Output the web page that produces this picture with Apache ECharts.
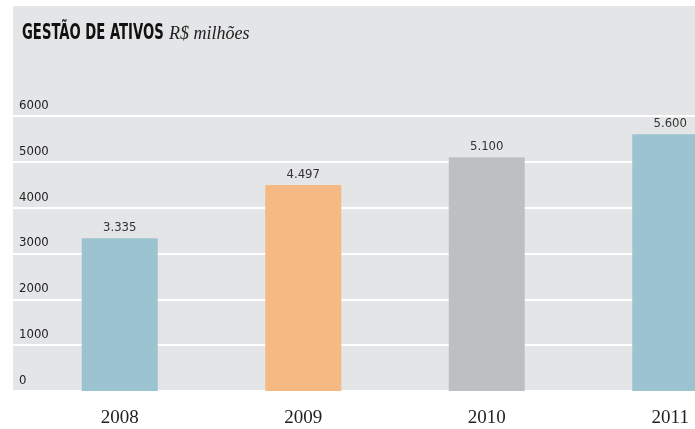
<!DOCTYPE html>
<html>
<head>
<meta charset="utf-8">
<script src="https://cdn.jsdelivr.net/npm/echarts@6/dist/echarts.min.js"></script>
<style>
  html, body { margin: 0; padding: 0; background: #fff; }
  #chart { width: 695px; height: 429px; }
</style>
</head>
<body>
<div id="chart"></div>
<script>
const years = ['2008', '2009', '2010', '2011'];
const values = [3335, 4497, 5100, 5600];
const barColors = ['#9bc4d0', '#f7b983', '#bdc0c3', '#9bc4d0'];
const yTicks = [0, 1000, 2000, 3000, 4000, 5000, 6000];

const condensed = '"DejaVu Sans Condensed", "Liberation Sans Narrow", sans-serif';
const serif = '"Liberation Serif", "DejaVu Serif", serif';

const chart = echarts.init(document.getElementById('chart'));

const option = {
  animation: false,
  backgroundColor: '#ffffff',
  graphic: [
    {
      type: 'rect',
      z: -10,
      shape: { x: 13, y: 6, width: 682, height: 385 },
      style: { fill: '#e4e5e7' }
    },
    {
      type: 'text',
      x: 22,
      y: 22,
      scaleX: 0.7,
      scaleY: 1.05,
      style: {
        text: 'GESTÃO DE ATIVOS',
        font: 'bold 21px ' + condensed,
        fill: '#111'
      }
    },
    {
      type: 'text',
      x: 169,
      y: 25,
      style: {
        text: 'R$ milhões',
        font: 'italic 18px ' + serif,
        fill: '#222'
      }
    }
  ],
  grid: [
    // grid for the gridlines and value labels
    { left: 13, right: 0, top: 116, bottom: 38, outerBoundsMode: 'none' },
    // grid for the bars (wider than the canvas so 2011 is cut like the original)
    { left: 28, right: -67, top: 116, bottom: 38, outerBoundsMode: 'none' }
  ],
  xAxis: [
    { gridIndex: 0, type: 'category', data: years, show: false },
    {
      gridIndex: 1,
      type: 'category',
      data: years,
      axisLine: { show: false },
      axisTick: { show: false },
      axisLabel: {
        margin: 18,
        fontFamily: serif,
        fontSize: 19,
        color: '#222'
      }
    }
  ],
  yAxis: [
    {
      gridIndex: 0,
      type: 'value',
      min: yTicks[0],
      max: yTicks[yTicks.length - 1],
      interval: 1000,
      axisLine: { show: false },
      axisTick: { show: false },
      axisLabel: {
        inside: true,
        margin: 6,
        verticalAlign: 'bottom',
        padding: [0, 0, 4, 0],
        fontFamily: condensed,
        fontSize: 13,
        color: '#222',
        formatter: v => String(v)
      },
      splitLine: { lineStyle: { color: '#ffffff', width: 2 } }
    },
    {
      gridIndex: 1,
      type: 'value',
      min: yTicks[0],
      max: yTicks[yTicks.length - 1],
      interval: 1000,
      show: false,
      splitLine: { show: false }
    }
  ],
  series: [
    {
      type: 'bar',
      xAxisIndex: 1,
      yAxisIndex: 1,
      barWidth: 76,
      z: 5,
      data: values.map((v, i) => ({ value: v, itemStyle: { color: barColors[i] } })),
      label: {
        show: true,
        position: 'top',
        distance: 4,
        fontFamily: condensed,
        fontSize: 13,
        color: '#333',
        formatter: p => p.value.toLocaleString('de-DE')
      }
    }
  ]
};

chart.setOption(option);
</script>
</body>
</html>
